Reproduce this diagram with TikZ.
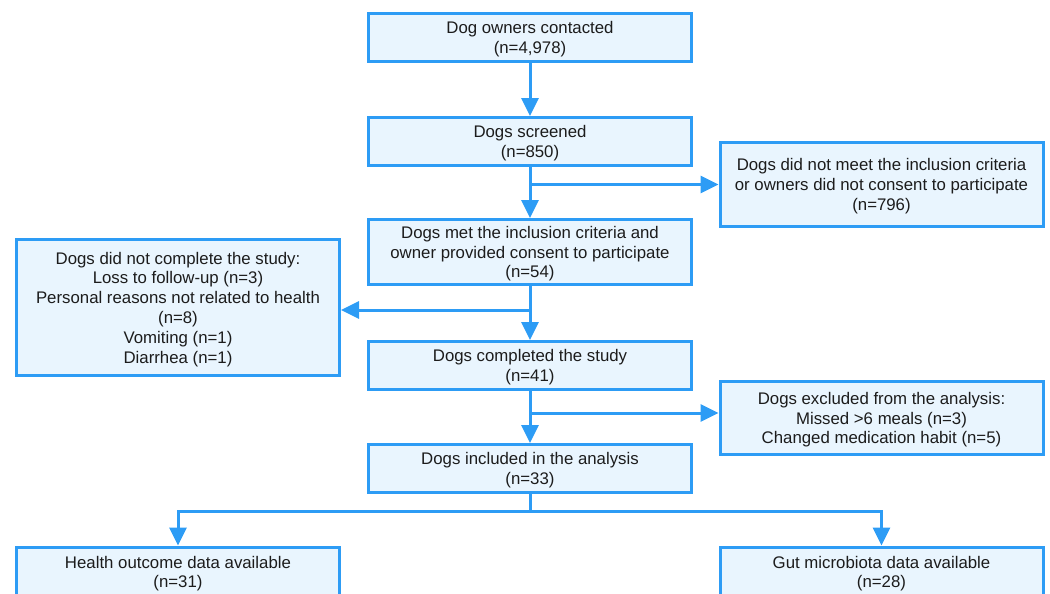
\documentclass[tikz,border=0pt]{standalone}
\usepackage{fontspec}
\setmainfont{Liberation Sans}
\usepackage{tikz}
\usetikzlibrary{arrows.meta}

\definecolor{boxline}{RGB}{45,156,245}
\definecolor{boxfill}{RGB}{233,245,254}
\definecolor{boxtext}{RGB}{28,28,28}

\begin{document}
\begin{tikzpicture}[x=1pt, y=-1pt,
  box/.style = {shape=rectangle, draw=boxline, fill=boxfill,
    line width=3pt, align=center, text=boxtext,
    minimum width=323pt, minimum height=48pt, inner sep=2pt,
    text depth=-2pt, font=\fontsize{16.8}{19.8}\selectfont},
  arr/.style = {draw=boxline, line width=3pt,
    -{Triangle[length=18pt, width=17pt]}}]
  \useasboundingbox (0,0) rectangle (1050,594);
  \clip (0,0) rectangle (1050,594);
  % main column
  \node[box] (contacted) at (530,37.5) {Dog owners contacted\\(n=4,978)};
  \node[box] (screened) at (530,141.5) {Dogs screened\\(n=850)};
  \node[box, minimum height=65pt] (met) at (530,252)
    {Dogs met the inclusion criteria and\\owner provided consent to participate\\(n=54)};
  \node[box] (completed) at (530,365.5) {Dogs completed the study\\(n=41)};
  \node[box] (included) at (530,468.5) {Dogs included in the analysis\\(n=33)};
  % side boxes
  \node[box, minimum height=84pt] (notmet) at (881.5,184.5)
    {Dogs did not meet the inclusion criteria\\or owners did not consent to participate\\(n=796)};
  \node[box, minimum height=136pt] (dropout) at (178,307.5)
    {Dogs did not complete the study:\\Loss to follow-up (n=3)\\Personal reasons not related to health\\(n=8)\\Vomiting (n=1)\\Diarrhea (n=1)};
  \node[box, minimum height=73pt] (excluded) at (881.5,418)
    {Dogs excluded from the analysis:\\Missed >6 meals (n=3)\\Changed medication habit (n=5)};
  % outcome boxes
  \node[box, minimum height=50pt] (health) at (178,572) {Health outcome data available\\(n=31)};
  \node[box, minimum height=50pt] (gut) at (881.5,572) {Gut microbiota data available\\(n=28)};

  \foreach \a/\b in {contacted/screened, screened/met, met/completed, completed/included}
    \draw[arr] (\a) -- (\b);
  \draw[arr] (screened.south |- notmet.west) -- (notmet.west);
  \draw[arr] (met.south |- 0,310) -- (dropout.east |- 0,310);
  \draw[arr] (completed.south |- 0,413) -- (excluded.west |- 0,413);
  \coordinate (split) at (530,511);
  \draw[arr] (included.south) -- (split) -| (health.north);
  \draw[arr] (split) -| (gut.north);
\end{tikzpicture}
\end{document}
